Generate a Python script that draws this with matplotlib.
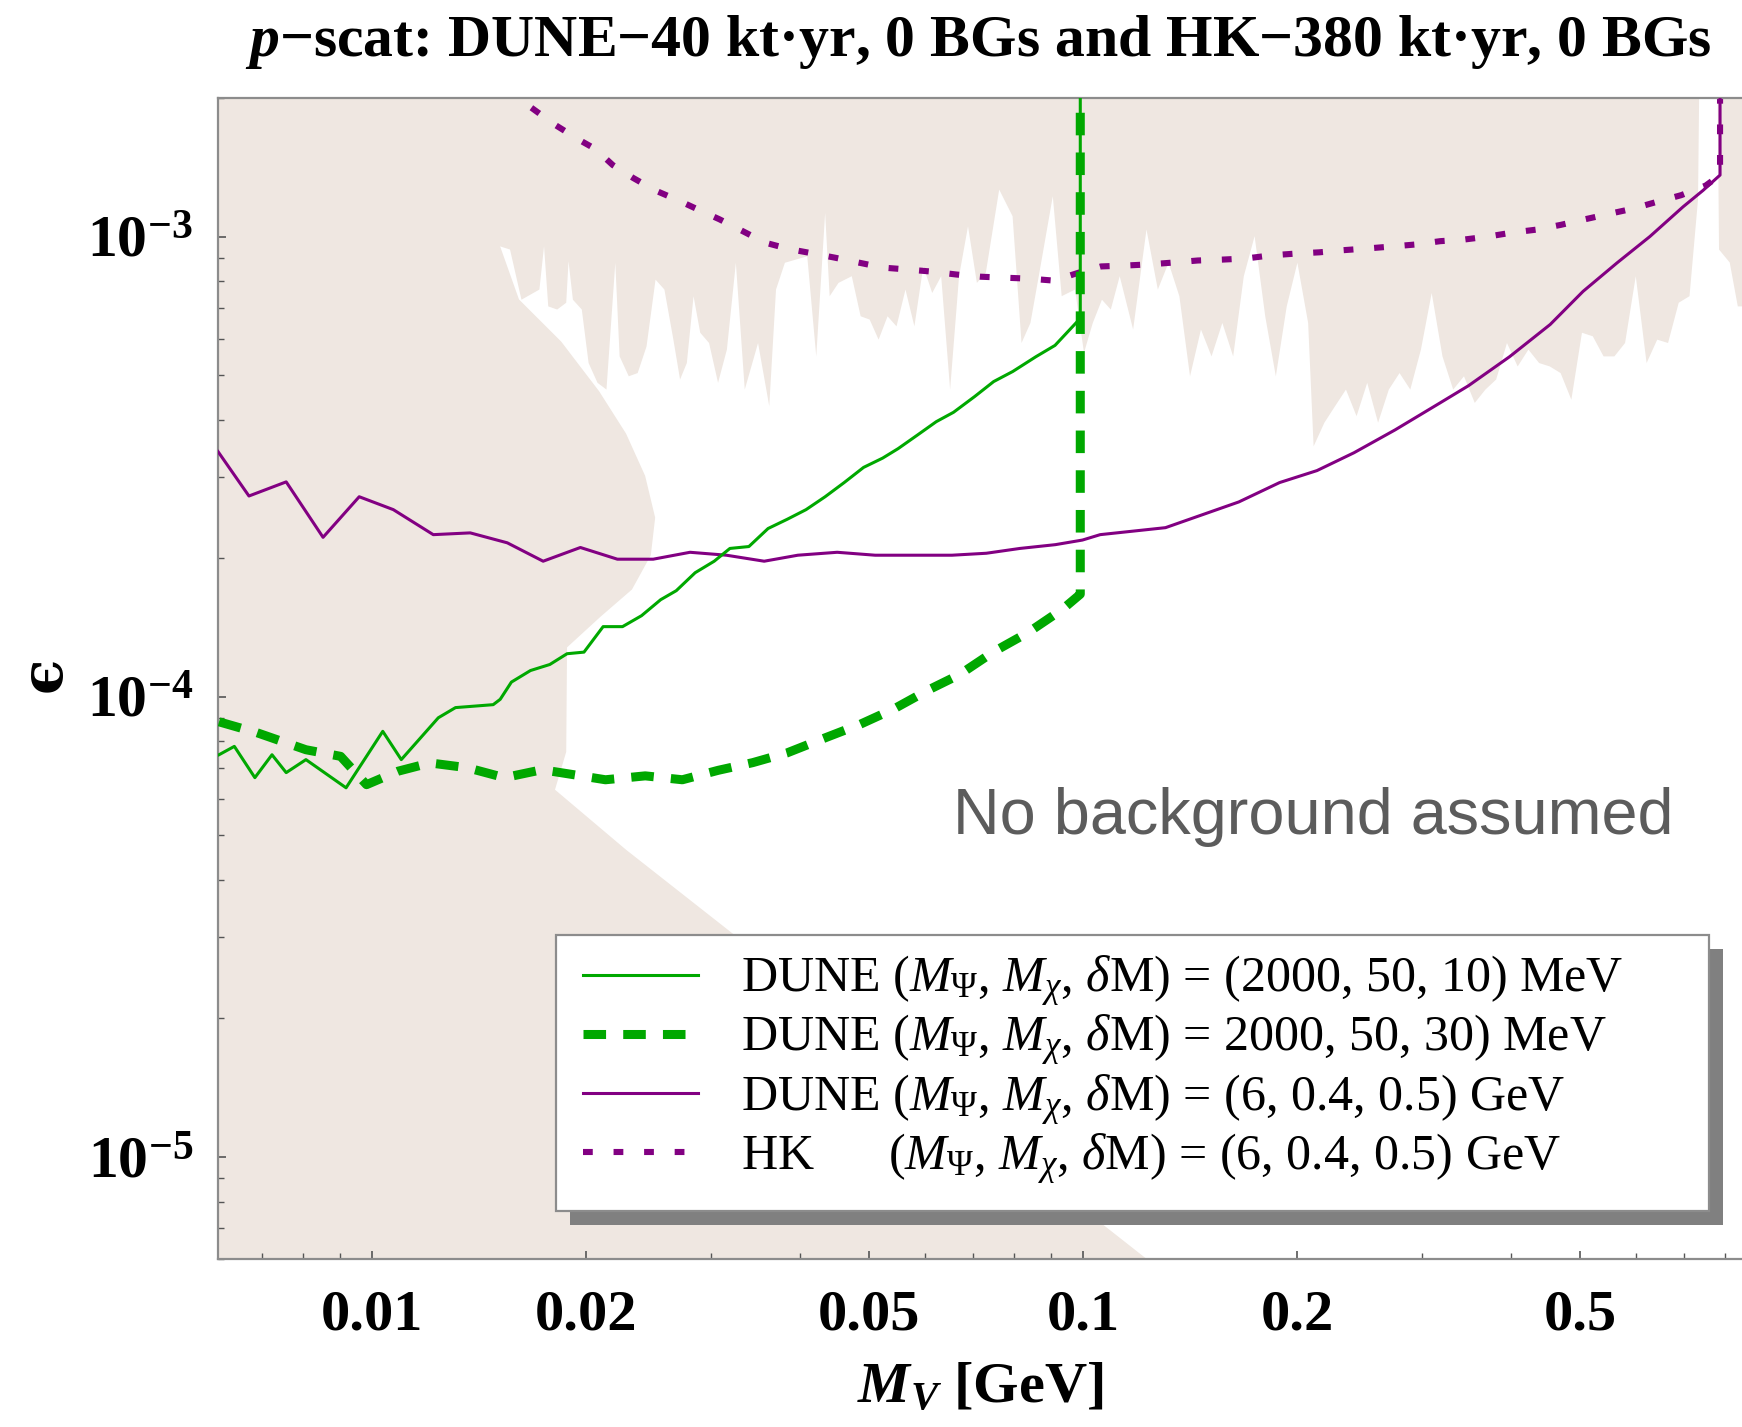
import numpy as np
import matplotlib.pyplot as plt
from matplotlib.patches import Rectangle
from matplotlib.transforms import ScaledTranslation
from matplotlib.ticker import FixedLocator, NullFormatter, LogLocator, FuncFormatter

plt.rcParams['font.family'] = ['Liberation Serif', 'DejaVu Serif']
plt.rcParams['mathtext.fontset'] = 'custom'
plt.rcParams['mathtext.rm'] = 'Liberation Serif'
plt.rcParams['mathtext.it'] = 'Liberation Serif:italic'
plt.rcParams['mathtext.bf'] = 'Liberation Serif:bold'
plt.rcParams['mathtext.bfit'] = 'Liberation Serif:bold:italic'

# DUNE, (M_psi, M_chi, dM) = (2000, 50, 10) MeV
mv_dune10 = [0.00609, 0.00640, 0.00684, 0.00723, 0.00757, 0.00807, 0.00919, 0.01035,
             0.01099, 0.01239, 0.01310, 0.01480, 0.01514, 0.0157, 0.0167, 0.01778,
             0.0188, 0.01986, 0.02113, 0.02250, 0.02393, 0.02546, 0.02678, 0.02847,
             0.03028, 0.03186, 0.03388, 0.03605, 0.03836, 0.04077, 0.04337, 0.04613,
             0.04912, 0.05225, 0.05493, 0.05843, 0.06216, 0.06573, 0.07038, 0.07486,
             0.07963, 0.08582, 0.09131, 0.0991, 0.0991]
eps_dune10 = [7.48e-5, 7.80e-5, 6.67e-5, 7.48e-5, 6.84e-5, 7.30e-5, 6.34e-5, 8.41e-5,
              7.30e-5, 9.0e-5, 9.47e-5, 9.61e-5, 9.87e-5, 1.076e-4, 1.14e-4, 1.175e-4,
              1.24e-4, 1.25e-4, 1.42e-4, 1.42e-4, 1.50e-4, 1.625e-4, 1.70e-4, 1.86e-4,
              1.97e-4, 2.10e-4, 2.12e-4, 2.32e-4, 2.43e-4, 2.55e-4, 2.72e-4, 2.92e-4,
              3.15e-4, 3.30e-4, 3.46e-4, 3.70e-4, 3.96e-4, 4.15e-4, 4.49e-4, 4.84e-4,
              5.09e-4, 5.48e-4, 5.80e-4, 6.64e-4, 3e-3]

# DUNE, (M_psi, M_chi, dM) = (2000, 50, 30) MeV
mv_dune30 = [0.00609, 0.00689, 0.00807, 0.00903, 0.00982, 0.01088, 0.01206, 0.01361,
             0.01535, 0.01734, 0.01920, 0.02129, 0.02422, 0.02731, 0.03068, 0.03430,
             0.03834, 0.04337, 0.04857, 0.05420, 0.06063, 0.06695, 0.07490, 0.08370,
             0.09355, 0.0991, 0.0991]
eps_dune30 = [8.82e-5, 8.35e-5, 7.67e-5, 7.42e-5, 6.44e-5, 6.89e-5, 7.18e-5, 7.01e-5,
              6.67e-5, 6.94e-5, 6.77e-5, 6.6e-5, 6.73e-5, 6.6e-5, 6.92e-5, 7.19e-5,
              7.55e-5, 8.14e-5, 8.71e-5, 9.41e-5, 1.035e-4, 1.116e-4, 1.253e-4, 1.379e-4,
              1.549e-4, 1.67e-4, 3e-3]

# DUNE, (M_psi, M_chi, dM) = (6, 0.4, 0.5) GeV
mv_dune_gev = [0.00607, 0.00671, 0.00757, 0.00853, 0.00959, 0.01071, 0.01219, 0.01374,
               0.01549, 0.01740, 0.01963, 0.02213, 0.02485, 0.0280, 0.0315, 0.0356,
               0.0397, 0.0451, 0.0510, 0.0576, 0.0654, 0.0731, 0.0815, 0.0914, 0.0998,
               0.1057, 0.1306, 0.1656, 0.189, 0.2133, 0.2405, 0.2747, 0.3178, 0.3484,
               0.398, 0.454, 0.505, 0.564, 0.627, 0.698, 0.745, 0.787, 0.787]
eps_dune_gev = [3.41e-4, 2.73e-4, 2.93e-4, 2.22e-4, 2.72e-4, 2.55e-4, 2.25e-4, 2.27e-4,
                2.16e-4, 1.97e-4, 2.11e-4, 1.99e-4, 1.99e-4, 2.06e-4, 2.03e-4, 1.97e-4,
                2.03e-4, 2.06e-4, 2.03e-4, 2.03e-4, 2.03e-4, 2.05e-4, 2.10e-4, 2.14e-4,
                2.19e-4, 2.25e-4, 2.33e-4, 2.65e-4, 2.92e-4, 3.10e-4, 3.39e-4, 3.80e-4,
                4.35e-4, 4.74e-4, 5.48e-4, 6.44e-4, 7.6e-4, 8.77e-4, 1.0e-3, 1.16e-3,
                1.26e-3, 1.36e-3, 3e-3]

# HK, (M_psi, M_chi, dM) = (6, 0.4, 0.5) GeV
mv_hk = [0.01675, 0.01807, 0.01958, 0.0206, 0.0218, 0.0233, 0.0250, 0.0269, 0.0289,
         0.0308, 0.0331, 0.0357, 0.0385, 0.0415, 0.0447, 0.0483, 0.0523, 0.0566,
         0.0613, 0.0663, 0.0716, 0.0774, 0.0840, 0.0910, 0.0987, 0.106, 0.1149,
         0.124, 0.134, 0.145, 0.157, 0.1695, 0.1836, 0.1987, 0.2149, 0.2323, 0.2509,
         0.2711, 0.2937, 0.3178, 0.3435, 0.3714, 0.4015, 0.4339, 0.4697, 0.508,
         0.5495, 0.594, 0.642, 0.694, 0.751, 0.787, 0.787]
eps_hk = [1.905e-3, 1.75e-3, 1.62e-3, 1.55e-3, 1.43e-3, 1.34e-3, 1.26e-3, 1.20e-3,
          1.14e-3, 1.09e-3, 1.03e-3, 9.7e-4, 9.4e-4, 9.2e-4, 9.0e-4, 8.78e-4, 8.56e-4,
          8.48e-4, 8.39e-4, 8.27e-4, 8.18e-4, 8.14e-4, 8.1e-4, 8.02e-4, 8.35e-4,
          8.61e-4, 8.65e-4, 8.7e-4, 8.78e-4, 8.87e-4, 8.91e-4, 8.96e-4, 9.1e-4,
          9.18e-4, 9.24e-4, 9.34e-4, 9.42e-4, 9.51e-4, 9.61e-4, 9.77e-4, 9.85e-4,
          1.0e-3, 1.02e-3, 1.035e-3, 1.06e-3, 1.09e-3, 1.12e-3, 1.15e-3, 1.19e-3,
          1.23e-3, 1.29e-3, 1.36e-3, 3e-3]

# existing bounds: lower edge of the excluded band from above (left to right)
edge_mv = [0.01510, 0.01563, 0.01622, 0.01719, 0.01745, 0.01769, 0.01821, 0.01875,
           0.01889, 0.01916, 0.01972, 0.02016, 0.02075, 0.02136, 0.02198, 0.02229,
           0.02296, 0.02363, 0.02432, 0.02504, 0.02577, 0.02653, 0.02711, 0.02771,
           0.02832, 0.02894, 0.02978, 0.03066, 0.03155, 0.03248, 0.03343, 0.03490,
           0.03619, 0.03699, 0.03807, 0.04093, 0.04214, 0.04337, 0.04401, 0.04529,
           0.04728, 0.04866, 0.05010, 0.05157, 0.05309, 0.05465, 0.05626, 0.05791,
           0.05960, 0.06135, 0.06316, 0.06501, 0.06692, 0.06889, 0.07090, 0.07298,
           0.07621, 0.07959, 0.08193, 0.08433, 0.08680, 0.09066, 0.09331, 0.09744,
           0.1003, 0.1032, 0.1063, 0.1094, 0.1126, 0.1176, 0.1228, 0.1274, 0.1319,
           0.1366, 0.1414, 0.1465, 0.1516, 0.1570, 0.1626, 0.1683, 0.1743, 0.1804,
           0.1867, 0.1934, 0.2002, 0.2073, 0.2110, 0.2185, 0.2262, 0.2343, 0.2425,
           0.2510, 0.2600, 0.2692, 0.2787, 0.2886, 0.2987, 0.3093, 0.3203, 0.3316,
           0.3434, 0.3556, 0.3681, 0.3811, 0.3947, 0.4086, 0.4231, 0.4380, 0.4535,
           0.4696, 0.4862, 0.5032, 0.5212, 0.5397, 0.5589, 0.5786, 0.5990, 0.6204,
           0.6421, 0.6650, 0.6884, 0.7129, 0.7328, 0.7375, 0.7793, 0.7844, 0.8121,
           0.8336, 0.9]
edge_eps = [9.53e-4, 9.37e-4, 7.29e-4, 7.67e-4, 9.53e-4, 7.05e-4, 6.94e-4, 7.18e-4,
            8.84e-4, 7.29e-4, 6.94e-4, 5.31e-4, 4.81e-4, 4.65e-4, 8.77e-4, 5.49e-4,
            4.97e-4, 5.05e-4, 5.77e-4, 8.06e-4, 7.67e-4, 5.97e-4, 4.89e-4, 5.31e-4,
            7.42e-4, 6.18e-4, 5.87e-4, 4.81e-4, 5.68e-4, 8.77e-4, 4.65e-4, 5.87e-4,
            4.28e-4, 7.67e-4, 8.77e-4, 9.06e-4, 5.49e-4, 1.126e-3, 7.42e-4, 7.93e-4,
            8.20e-4, 6.71e-4, 6.60e-4, 5.97e-4, 6.71e-4, 6.38e-4, 7.67e-4, 6.38e-4,
            8.62e-4, 7.54e-4, 8.20e-4, 4.65e-4, 8.20e-4, 1.053e-3, 7.93e-4, 8.34e-4,
            1.265e-3, 1.107e-3, 5.87e-4, 6.49e-4, 8.34e-4, 1.224e-3, 7.42e-4, 7.67e-4,
            5.59e-4, 6.49e-4, 7.29e-4, 6.94e-4, 8.20e-4, 6.28e-4, 1.036e-3, 7.67e-4,
            8.77e-4, 7.42e-4, 4.97e-4, 6.28e-4, 5.49e-4, 6.49e-4, 5.49e-4, 8.20e-4,
            1.002e-3, 6.71e-4, 4.97e-4, 7.05e-4, 8.77e-4, 6.49e-4, 3.50e-4, 3.94e-4,
            4.28e-4, 4.65e-4, 4.07e-4, 4.81e-4, 3.94e-4, 4.65e-4, 5.05e-4, 4.65e-4,
            5.68e-4, 7.54e-4, 5.49e-4, 4.65e-4, 4.97e-4, 4.35e-4, 4.65e-4, 4.89e-4,
            5.87e-4, 5.22e-4, 5.68e-4, 5.31e-4, 5.22e-4, 5.05e-4, 4.42e-4, 6.18e-4,
            6.07e-4, 5.49e-4, 5.49e-4, 5.87e-4, 8.20e-4, 5.31e-4, 5.97e-4, 5.87e-4,
            7.18e-4, 7.42e-4, 1.204e-3, 3e-3, 3e-3, 9.37e-4, 8.78e-4, 7.05e-4, 7.05e-4]

# existing bounds: outline of the low-mass excluded region (top to bottom)
blob_mv = [0.01514, 0.01609, 0.01845, 0.02086, 0.02276, 0.02421, 0.02501, 0.02466,
           0.02320, 0.02093, 0.01880, 0.01875, 0.01808, 0.02276, 0.1234, 0.142]
blob_eps = [9.51e-4, 7.30e-4, 5.91e-4, 4.61e-4, 3.73e-4, 3.02e-4, 2.45e-4, 2.03e-4,
            1.71e-4, 1.49e-4, 1.28e-4, 7.59e-5, 6.28e-5, 4.65e-5, 5.97e-6, 5.0e-6]

xticks_major = [0.01, 0.02, 0.05, 0.1, 0.2, 0.5]
xticks_minor = [0.007, 0.008, 0.009, 0.03, 0.04, 0.06, 0.07, 0.08, 0.09,
                0.3, 0.4, 0.6, 0.7, 0.8]

green = '#00a800'
purple = '#820082'
shade = '#efe7e1'

fig = plt.figure(figsize=(17.42, 14.27), dpi=100)
ax = fig.add_axes([218 / 1742, 1 - 1259 / 1427, 1 - 218 / 1742, (1259 - 98) / 1427])
ax.set_xscale('log')
ax.set_yscale('log')
ax.set_xlim(0.00607, 0.845)
ax.set_ylim(6.0e-6, 2.0e-3)

# shaded excluded region: top band + left region
xlo, xhi, ytop, ybot = 0.004, 1.0, 3e-3, 4e-6
px = np.concatenate([[xlo, xhi, xhi], edge_mv[::-1], blob_mv, [xlo]])
py = np.concatenate([[ytop, ytop, edge_eps[-1]], edge_eps[::-1], blob_eps, [ybot]])
ax.fill(px, py, color=shade, lw=0, zorder=0)

ax.plot(mv_hk, eps_hk, color=purple, lw=4.4, ls=(0, (1.6, 3.4)), zorder=2,
        label=r'HK      ($M_{\Psi}$, $M_{\chi}$, $\delta$M) = (6, 0.4, 0.5) GeV')
ax.plot(mv_dune_gev, eps_dune_gev, color=purple, lw=2.2, zorder=3,
        label=r'DUNE ($M_{\Psi}$, $M_{\chi}$, $\delta$M) = (6, 0.4, 0.5) GeV')
ax.plot(mv_dune30, eps_dune30, color=green, lw=6.5, ls=(0, (2.5, 1.9)), zorder=3,
        label=r'DUNE ($M_{\Psi}$, $M_{\chi}$, $\delta$M) = 2000, 50, 30) MeV')
ax.plot(mv_dune10, eps_dune10, color=green, lw=2.2, zorder=4,
        label=r'DUNE ($M_{\Psi}$, $M_{\chi}$, $\delta$M) = (2000, 50, 10) MeV')

# axes styling
for side in ['left', 'bottom', 'top']:
    ax.spines[side].set_color('#8c8c8c')
    ax.spines[side].set_linewidth(1.6)
ax.spines['right'].set_visible(False)

ax.xaxis.set_major_locator(FixedLocator(xticks_major))
ax.xaxis.set_minor_locator(FixedLocator(xticks_minor))
ax.xaxis.set_major_formatter(FuncFormatter(lambda v, p: f'{v:g}'))
ax.xaxis.set_minor_formatter(NullFormatter())
ax.yaxis.set_major_locator(LogLocator(base=10, numticks=10))
ax.yaxis.set_minor_locator(LogLocator(base=10, subs=np.arange(2, 10), numticks=20))
ax.yaxis.set_major_formatter(FuncFormatter(
    lambda v, p: r'$\mathbf{10^{%d}}$' % int(round(np.log10(v)))))
ax.yaxis.set_minor_formatter(NullFormatter())

ax.tick_params(which='both', direction='in', color='#555555', top=False, right=False)
ax.tick_params(which='major', length=6, width=1.2)
ax.tick_params(which='minor', length=4, width=1.0)
ax.tick_params(axis='x', which='major', pad=22, labelsize=42)
ax.tick_params(axis='y', which='major', pad=18, labelsize=43)
for lab in ax.get_xticklabels():
    lab.set_fontweight('bold')

ax.set_xlabel(r'$\mathbfit{M_V}$ [GeV]', fontsize=42, fontweight='bold')
ax.xaxis.set_label_coords(0.5, -0.112)
ax.xaxis.label.set_va('center')
ax.set_ylabel('ϵ', fontsize=42, fontweight='bold', rotation=90,
              family=['DejaVu Serif'])
ax.yaxis.set_label_coords(-0.114, 0.504)
ax.yaxis.label.set_va('center')

fig.text(978 / 1742, 1 - 42 / 1427,
         r'$\mathbfit{p}$−scat: DUNE−40 kt·yr, 0 BGs and HK−380 kt·yr, 0 BGs',
         ha='center', va='center', fontsize=43, fontweight='bold')

ax.text(0.482, 0.381, 'No background assumed', transform=ax.transAxes,
        ha='left', va='center', fontsize=46.6, color='#5c5c5c',
        family='Liberation Sans', zorder=5)

# legend frame with a solid drop shadow offset down and to the right
box_x0, box_y0, box_x1, box_y1 = 0.2218, 0.0413, 0.9783, 0.2791
box = Rectangle((box_x0, box_y0), box_x1 - box_x0, box_y1 - box_y0,
                transform=ax.transAxes, facecolor='white', edgecolor='#8c8c8c',
                lw=1.6, zorder=8)
shadow_tr = ax.transAxes + ScaledTranslation(10 / 72, -10 / 72, fig.dpi_scale_trans)
shadow = Rectangle((box_x0, box_y0), box_x1 - box_x0, box_y1 - box_y0,
                   transform=shadow_tr, facecolor='#808080', edgecolor='none',
                   zorder=7)
ax.add_patch(shadow)
ax.add_patch(box)

handles, labels = ax.get_legend_handles_labels()
order = [3, 2, 1, 0]
leg = ax.legend([handles[i] for i in order], [labels[i] for i in order],
                loc='upper left', bbox_to_anchor=(0.2395, 0.2627),
                fontsize=36, handlelength=2.3, handletextpad=0.86,
                borderpad=0, borderaxespad=0, labelspacing=0.08,
                frameon=False)
leg.set_zorder(10)

fig.savefig('out.png', dpi=100)
